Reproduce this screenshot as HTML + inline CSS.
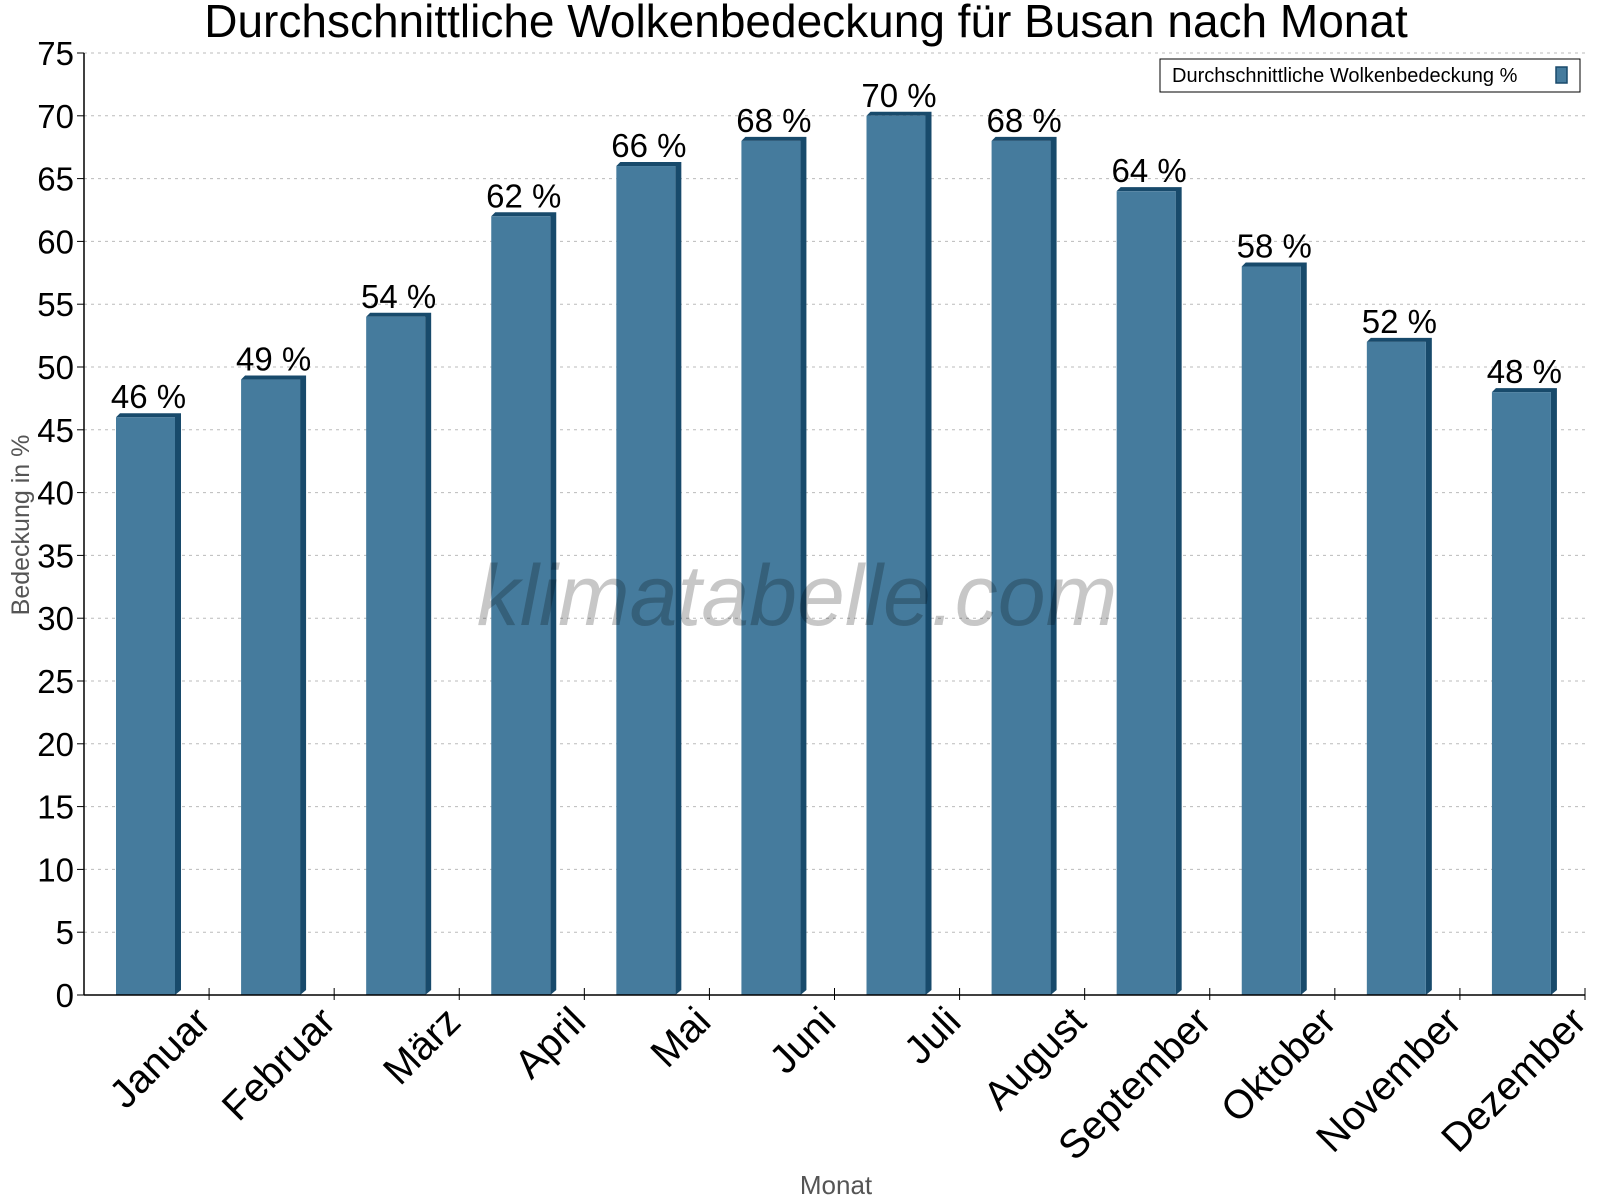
<!DOCTYPE html>
<html><head><meta charset="utf-8"><style>body{margin:0;background:#fff}svg{display:block;font-family:"Liberation Sans",sans-serif}</style></head>
<body>
<svg id="c" width="1600" height="1200" xmlns="http://www.w3.org/2000/svg">
<text x="806" y="37" font-size="46" text-anchor="middle">Durchschnittliche Wolkenbedeckung für Busan nach Monat</text>
<text transform="translate(29,525) rotate(-90)" font-size="25" fill="#555" text-anchor="middle">Bedeckung in %</text>
<text x="836" y="1194" font-size="26" fill="#555" text-anchor="middle">Monat</text>
<g id="grid"></g><g id="bars"></g><g id="axes"></g>
<text x="797" y="625" font-size="86" font-style="italic" fill="#000" fill-opacity="0.22" text-anchor="middle">klimatabelle.com</text>
<g>
<rect x="1160" y="59" width="420" height="33" fill="#fff" stroke="#000" stroke-width="1"/>
<text x="1172" y="82" font-size="20">Durchschnittliche Wolkenbedeckung %</text>
<rect x="1556" y="67" width="11" height="16" fill="#457b9d" stroke="#1a4a6b" stroke-width="1.5"/>
</g>
</svg>
<script>
const months=["Januar","Februar","März","April","Mai","Juni","Juli","August","September","Oktober","November","Dezember"];
const values=[46,49,54,62,66,68,70,68,64,58,52,48];
const yTicks=[0,5,10,15,20,25,30,35,40,45,50,55,60,65,70,75];
const NS="http://www.w3.org/2000/svg";
const X0=84,X1=1585,Y0=995,Y1=53,YMAX=75;
const y=v=>Y0-(Y0-Y1)*v/YMAX;
const cw=(X1-X0)/months.length;
const x=i=>X0+i*cw;
function mk(t,a,p){const e=document.createElementNS(NS,t);for(const k in a)e.setAttribute(k,a[k]);p.appendChild(e);return e;}
const G=document.getElementById('grid'),B=document.getElementById('bars'),A=document.getElementById('axes');
yTicks.forEach(v=>{
 if(v>0){const l=mk('line',{x1:X0,x2:X1,y1:y(v),y2:y(v),stroke:'#bbb','stroke-dasharray':'3,4'},G);
 
 }
 mk('line',{x1:X0-7,x2:X0,y1:y(v),y2:y(v),stroke:'#000'},A);
 const t=mk('text',{x:X0-10,y:y(v)+12,'font-size':33,'text-anchor':'end'},A);t.textContent=v;
 
 
});
mk('line',{x1:X0,x2:X0,y1:Y1,y2:Y0,stroke:'#000','stroke-width':1.5},A);
mk('line',{x1:X0,x2:X1,y1:Y0,y2:Y0,stroke:'#000','stroke-width':1.5},A);
months.forEach((m,i)=>{
 mk('line',{x1:x(i+1),x2:x(i+1),y1:Y0-7,y2:Y0+5,stroke:'#000'},A);
 const bx=x(i)+32,bw=59,top=y(values[i]);
 const g=mk('g',{},B);
 
 
 mk('polygon',{points:`${bx},${top} ${bx+4},${top-4} ${bx+bw+6},${top-4} ${bx+bw+6},${Y0-5} ${bx+bw},${Y0} ${bx+bw},${top}`,fill:'#184a6b'},g);
 mk('rect',{x:bx,y:top,width:bw,height:Y0-top,fill:'#457b9d'},g);
 const vl=mk('text',{x:bx+bw/2+3,y:top-9,'font-size':33,'text-anchor':'middle'},B);vl.textContent=values[i]+' %';
 
 
 const cx=x(i)+cw/2+66,cy=1024;
 const t=mk('text',{transform:`translate(${cx},${cy}) rotate(-45)`,'font-size':40,'text-anchor':'end'},A);t.textContent=m;
 
 
});
</script>
</body></html>
